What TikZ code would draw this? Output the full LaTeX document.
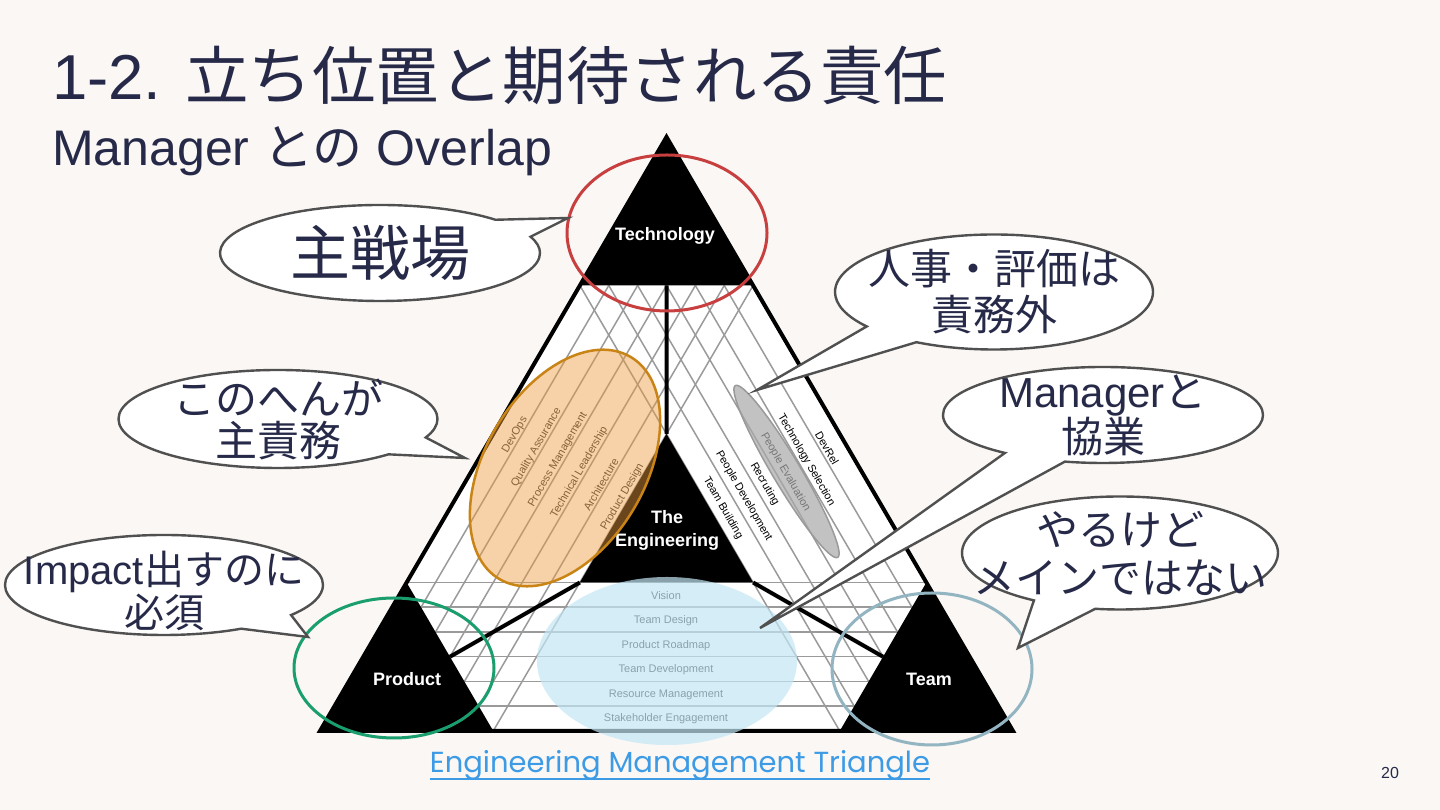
\documentclass[tikz,border=0pt]{standalone}
\usepackage{fontspec}
\setmainfont{Liberation Sans}
\newfontfamily\jp{Noto Sans CJK JP}
\newfontfamily\linkfont{Poppins}
\usepackage{xcolor}
\usetikzlibrary{calc, positioning, shapes.callouts}

\definecolor{bg}{HTML}{FAF7F4}
\definecolor{navy}{HTML}{262A48}
\definecolor{gridgrey}{HTML}{9A9A9A}
\definecolor{bubbleline}{HTML}{505050}
\definecolor{orangefill}{HTML}{EE9A3C}
\definecolor{orangeline}{HTML}{C98416}
\definecolor{greyfill}{HTML}{A9A9A9}
\definecolor{greyline}{HTML}{9A9A9A}
\definecolor{bluefill}{HTML}{C3E6F4}
\definecolor{techred}{HTML}{C7403F}
\definecolor{prodgreen}{HTML}{1A9E6E}
\definecolor{teamblue}{HTML}{92B5C1}
\definecolor{linkblue}{HTML}{3D9BE6}

\begin{document}
\begin{tikzpicture}[x=1pt,y=1pt,
    bubble/.style={ellipse callout,draw=bubbleline,line width=2.4pt,fill=white,
                   inner sep=0pt,callout pointer arc=24},
    bubble text/.style={text=navy,align=center,font=\jp\fontsize{42}{46}\selectfont},
    corner label/.style={text=white,align=center,font=\bfseries\fontsize{18}{23}\selectfont},
    band label/.style={inner sep=0pt,font=\fontsize{11}{12}\selectfont},
    grid line/.style={draw=gridgrey,line width=1.5pt},
    ring/.style={line width=3pt}]

  \useasboundingbox (0,0) rectangle (1440,810);
  \fill[bg] (0,0) rectangle (1440,810);

  \node[anchor=base west,inner sep=0pt,text=navy,font=\fontsize{63.5}{70}\selectfont] (title) at (52,710)
    {1-2. {\jp 立ち位置と期待される責任}};
  \node[anchor=base west,inner sep=0pt,text=navy,font=\fontsize{50}{56}\selectfont] (subtitle) at (52,644)
    {Manager {\jp との} Overlap};

  \begin{scope}[shift={(320,79)},x=173.25pt,y=148.5pt]
    \coordinate (A) at (0,0);
    \coordinate (B) at (4,0);
    \coordinate (C) at (2,4);
    \fill[white] (A) -- (B) -- (C) -- cycle;
    \begin{scope}[grid line]
      \clip (A) -- (B) -- (C) -- cycle;
      \foreach \k in {1,...,6} {
        \draw ({\k/6},0) -- ({\k/6+1.5},3);
        \draw ({4-\k/6},0) -- ({2.5-\k/6},3);
        \draw ({\k/12},{\k/6}) -- ({4-\k/12},{\k/6});
      }
    \end{scope}
    \fill (1.5,3) -- (2.5,3) -- (C) -- cycle;
    \fill (A) -- (1,0) -- (0.5,1) -- cycle;
    \fill (3,0) -- (B) -- (3.5,1) -- cycle;
    \fill (1.5,1) -- (2.5,1) -- (2,2) -- cycle;
    \draw[line width=4pt] (2,3) -- (2,2) (1.5,1) -- (0.75,0.5) (2.5,1) -- (3.25,0.5);
    \draw[line width=4pt] (A) -- (B) -- (C) -- cycle;
  \end{scope}

  \node[corner label] (tech) at (665,574) {Technology};
  \node[corner label] (eng) at (667,280) {The\\Engineering};
  \node[corner label] (prod) at (407,131) {Product};
  \node[corner label] (team) at (929,131) {Team};

  \foreach \t [count=\i from 0] in {DevOps,Quality Assurance,Process Management,
      Technical Leadership,Architecture,Product Design}
    \node[band label,text=black!80,rotate=60] (l\i) at ({515+21.5*\i},{375-12.4*\i}) {\t};
  \foreach \t [count=\i from 0] in {DevRel,Technology Selection,People Evaluation,
      Recruting,People Development,Team Building}
    \node[band label,text=black,rotate=-60] (r\i) at ({827-20.8*\i},{362-12*\i}) {\t};
  \foreach \t [count=\i from 0] in {Vision,Team Design,Product Roadmap,
      Team Development,Resource Management,Stakeholder Engagement}
    \node[band label,text=black] (m\i) at (666,{214-24.6*\i}) {\t};

  \draw[orangeline,line width=2.5pt,fill=orangefill,fill opacity=0.45,rotate around={59.4:(565,342)}]
    (565,342) ellipse (129 and 80);
  \draw[greyline,line width=1.5pt,fill=greyfill,fill opacity=0.7,rotate around={-59.2:(786.5,338.5)}]
    (786.5,338.5) ellipse (100 and 14);
  \fill[bluefill,opacity=0.7] (667,149) ellipse (130 and 84);

  \draw[ring,techred] (667,577) ellipse (100 and 78);
  \draw[ring,prodgreen] (394,142) ellipse (100 and 70);
  \draw[ring,teamblue] (932,141) ellipse (100 and 76);

  \node[bubble,minimum width=320pt,minimum height=96pt,callout absolute pointer={(568,592)}] (b-main) at (380,557) {};
  \node[bubble text,font=\jp\fontsize{60}{66}\selectfont] (t-main) at (b-main.center) {主戦場};

  \node[bubble,minimum width=318pt,minimum height=115pt,callout absolute pointer={(757,420)}] (b-hr) at (994,518) {};
  \node[bubble text] (t-hr) at (b-hr.center) {人事・評価は\\責務外};

  \node[bubble,minimum width=320pt,minimum height=96pt,callout absolute pointer={(760,182)}] (b-mgr) at (1103,395) {};
  \node[bubble text,font=\jp\fontsize{42}{43}\selectfont] (t-mgr) at (b-mgr.center) {{\rmfamily Manager}と\\協業};

  \node[bubble,minimum width=316pt,minimum height=113pt,callout absolute pointer={(1018,162)}] (b-side) at (1120,257) {};
  \node[bubble text,font=\jp\fontsize{42}{48}\selectfont] (t-side) at (b-side.center) {やるけど\\メインではない};

  \node[bubble,minimum width=319pt,minimum height=98pt,callout absolute pointer={(465,352)}] (b-duty) at (278,391) {};
  \node[bubble text,font=\jp\fontsize{42}{42}\selectfont] (t-duty) at (b-duty.center) {このへんが\\主責務};

  \node[bubble,minimum width=318pt,minimum height=100pt,callout absolute pointer={(308,173)}] (b-impact) at (164,225) {};
  \node[bubble text,font=\jp\fontsize{40}{40}\selectfont] (t-impact) at ([yshift=-6pt]b-impact.center) {{\rmfamily Impact}出すのに\\必須};

  \node[anchor=base,inner sep=0pt,text=linkblue,font=\linkfont\fontsize{29}{32}\selectfont] (link) at (680,37)
    {Engineering Management Triangle};
  \draw[linkblue,line width=1.6pt] ([yshift=-6pt]link.base west) -- ([yshift=-6pt]link.base east);

  \node[text=navy,font=\fontsize{16}{18}\selectfont] (page) at (1390,37) {20};
\end{tikzpicture}
\end{document}
